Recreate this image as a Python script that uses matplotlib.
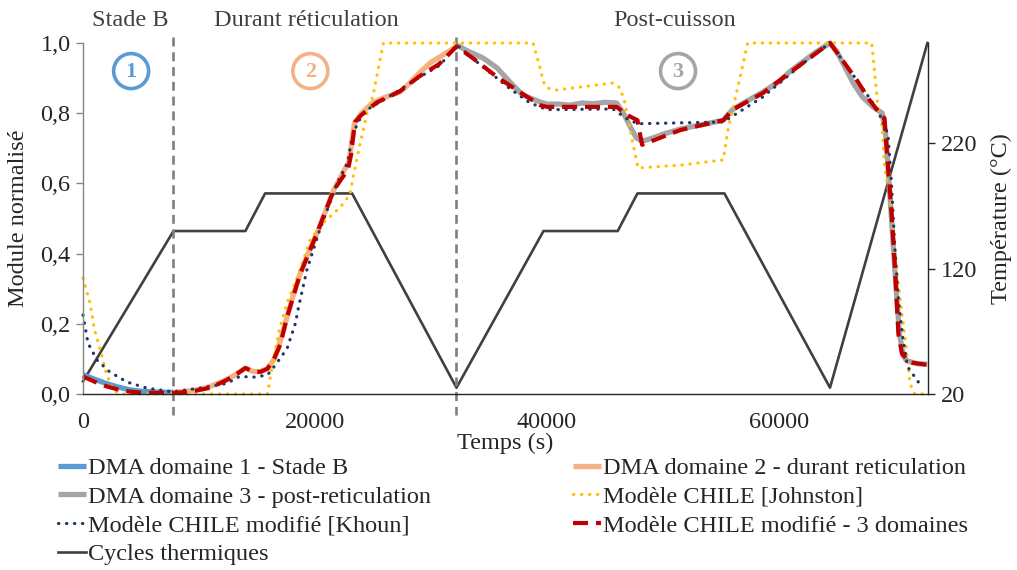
import matplotlib
matplotlib.use("Agg")
import matplotlib.pyplot as plt
from matplotlib.patches import Ellipse
from matplotlib.ticker import FuncFormatter

plt.rcParams['font.family'] = ['Liberation Serif', 'DejaVu Serif']

# ---------------- data ----------------
# thermal cycle (right axis, °C)
temp_t = [0, 7800, 14000, 15700, 23200, 32200, 39700, 46100, 47800, 55300, 64400, 72800]
temp_v = [30, 150, 150, 180, 180, 25, 150, 150, 180, 180, 25, 300]

# DMA domain 1 - B stage
dma1_t = [0, 1000, 2000, 3000, 4000, 5000, 6000, 7000, 7800]
dma1_v = [0.055, 0.042, 0.030, 0.020, 0.012, 0.008, 0.006, 0.005, 0.005]

# DMA domain 2 - during crosslinking
dma2_t = [7800, 9000, 10000, 11000, 12000, 13000, 14000, 14600, 15200, 15900, 16500, 17000,
          17600, 18200, 18700, 19400, 20200, 20900, 21600, 22400, 22900, 23100, 23400, 24000,
          25000, 26000, 27300, 28000, 29000, 30000, 31000, 32200]
dma2_v = [0.005, 0.008, 0.013, 0.022, 0.035, 0.052, 0.074, 0.065, 0.063, 0.072, 0.10, 0.15,
          0.22, 0.29, 0.34, 0.40, 0.46, 0.52, 0.58, 0.63, 0.66, 0.70, 0.77, 0.80,
          0.83, 0.845, 0.86, 0.88, 0.915, 0.945, 0.965, 0.99]

# DMA domain 3 - post-crosslinking
dma3_t = [32200, 33000, 34500, 35700, 36800, 37900, 39400, 40000, 41000, 42000, 43000, 44000,
          45000, 46000, 46600, 47200, 47700, 48200, 49000, 50000, 51500, 53000, 55200, 55600,
          56000, 57000, 58600, 60000, 61000, 62000, 63000, 64400, 65000, 66400, 67200, 68100,
          68900, 69200, 69500, 69800, 70100, 70400, 70700, 71000, 71500, 72000, 72800]
dma3_v = [0.995, 0.98, 0.957, 0.929, 0.889, 0.852, 0.832, 0.826, 0.826, 0.823, 0.829, 0.827,
          0.831, 0.829, 0.80, 0.76, 0.73, 0.72, 0.728, 0.74, 0.755, 0.765, 0.78, 0.795,
          0.81, 0.83, 0.86, 0.89, 0.92, 0.945, 0.97, 1.0, 0.975, 0.886, 0.846, 0.818,
          0.80, 0.74, 0.60, 0.45, 0.30, 0.17, 0.11, 0.095, 0.09, 0.086, 0.085]

# CHILE model [Johnston]
john_t = [0, 600, 1000, 1500, 2000, 2600, 3300, 15900, 16300, 16900, 17600, 18200, 18700,
          19600, 20700, 22200, 23000, 23300, 23900, 24500, 25000, 25400, 25900, 38800, 39100,
          39400, 39700, 40000, 40800, 45700, 46300, 46700, 47400, 47850, 51500, 55200, 55600,
          56600, 57300, 68000, 68500, 68900, 69100, 69600, 70000, 70250, 70600, 71000, 71300,
          71700, 72400]
john_v = [0.33, 0.26, 0.182, 0.125, 0.06, 0.01, 0.0, 0.0, 0.077, 0.18, 0.26, 0.31, 0.353,
          0.44, 0.487, 0.533, 0.567, 0.62, 0.715, 0.80, 0.85, 0.917, 1.0, 1.0, 0.966,
          0.929, 0.889, 0.872, 0.866, 0.886, 0.872, 0.832, 0.715, 0.644, 0.652, 0.667, 0.752,
          0.895, 1.0, 1.0, 0.83, 0.76, 0.647, 0.553, 0.41, 0.325, 0.23, 0.125, 0.03,
          0.0, 0.0]

# modified CHILE model [Khoun]
khoun_t = [0, 430, 1200, 2300, 3800, 5500, 7700, 10100, 12400, 13500, 14700, 15900, 16600,
           17600, 18300, 18600, 19300, 20400, 21900, 22800, 23200, 23700, 24500, 25900, 27300,
           29000, 30800, 32200, 34000, 36800, 38500, 40000, 45700, 46800, 47800, 55200, 58600,
           62000, 64400, 66700, 68500, 69400, 69700, 70000, 70300, 70700, 71100, 71900, 72300]
khoun_v = [0.225, 0.145, 0.097, 0.063, 0.034, 0.017, 0.006, 0.017, 0.03, 0.05, 0.048, 0.054,
           0.083, 0.13, 0.20, 0.25, 0.353, 0.467, 0.60, 0.658, 0.73, 0.775, 0.81, 0.838, 0.866,
           0.903, 0.937, 0.995, 0.945, 0.87, 0.83, 0.81, 0.812, 0.786, 0.77, 0.775, 0.846,
           0.94, 1.0, 0.895, 0.81, 0.74, 0.60, 0.41, 0.268, 0.154, 0.077, 0.04, 0.02]

# modified CHILE model - 3 domains
dom3_t = [0, 1000, 2000, 3000, 4000, 5000, 6500, 8000, 9500, 11000, 12400, 13300, 14000,
          14600, 15300, 15900, 16400, 17000, 17600, 18700, 20200, 21600, 22850, 23100, 23450,
          24000, 25300, 27300, 29000, 30700, 32200, 33600, 35700, 37400, 39400, 40000, 46000,
          46900, 47800, 48200, 51500, 55200, 56000, 58600, 61000, 64400, 66700, 67800, 68900,
          69100, 69400, 69700, 70000, 70300, 70600, 71300, 72800]
dom3_v = [0.05, 0.035, 0.022, 0.013, 0.007, 0.004, 0.003, 0.003, 0.008, 0.018, 0.04, 0.058,
          0.074, 0.065, 0.063, 0.072, 0.095, 0.14, 0.22, 0.34, 0.46, 0.58, 0.64, 0.68, 0.775,
          0.795, 0.83, 0.862, 0.905, 0.94, 0.99, 0.957, 0.903, 0.866, 0.823, 0.818, 0.818,
          0.795, 0.78, 0.71, 0.752, 0.78, 0.81, 0.857, 0.917, 1.0, 0.895, 0.838, 0.79,
          0.786, 0.647, 0.52, 0.36, 0.17, 0.115, 0.09, 0.083]

phase_bounds = [7800, 32200]
phase_labels = ["Stade B", "Durant réticulation", "Post-cuisson"]
phase_label_x = [4100, 19300, 51000]
circle_labels = ["1", "2", "3"]
circle_x = [4150, 19600, 51300]

x_ticks = [0, 20000, 40000, 60000]
y_ticks = [0.0, 0.2, 0.4, 0.6, 0.8, 1.0]
t_ticks = [20, 120, 220]

labels = ["DMA domaine 1 - Stade B", "DMA domaine 2 - durant reticulation",
          "DMA domaine 3 - post-reticulation", "Modèle CHILE [Johnston]",
          "Modèle CHILE modifié [Khoun]", "Modèle CHILE modifié - 3 domaines",
          "Cycles thermiques"]

# ---------------- styles ----------------
C_BLUE = '#5B9BD5'
C_SALMON = '#F4B183'
C_GREY = '#A5A5A5'
C_YEL = '#FFC000'
C_NAVY = '#1F3864'
C_RED = '#C00000'
C_BLACK = '#404040'
FS = 17.5

fig = plt.figure(figsize=(10.17, 5.70), dpi=100)
ax = fig.add_axes([83/1017, 1-394/570, 845/1017, 351/570])
ax2 = ax.twinx()
ax.set_zorder(ax2.get_zorder() + 1)
ax.patch.set_visible(False)

# thermal cycle
l_temp, = ax2.plot(temp_t, temp_v, color=C_BLACK, lw=1.9, clip_on=False)
ax2.set_ylim(20, 300)
ax2.set_yticks(t_ticks)
ax2.set_ylabel("Température (°C)", fontsize=FS, color='#262626', labelpad=10)

lw_dma = 3.8
l1, = ax.plot(dma1_t, dma1_v, color=C_BLUE, lw=lw_dma, solid_capstyle='butt', clip_on=False)
l2, = ax.plot(dma2_t, dma2_v, color=C_SALMON, lw=lw_dma, solid_capstyle='butt', clip_on=False)
l3, = ax.plot(dma3_t, dma3_v, color=C_GREY, lw=lw_dma, solid_capstyle='butt', clip_on=False)
l4, = ax.plot(john_t, john_v, color=C_YEL, lw=2.3, linestyle=(0, (0.1, 2.4)),
              dash_capstyle='round', clip_on=False)
l5, = ax.plot(khoun_t, khoun_v, color=C_NAVY, lw=2.3, linestyle=(0, (0.1, 2.4)),
              dash_capstyle='round', clip_on=False)
l6, = ax.plot(dom3_t, dom3_v, color=C_RED, lw=3.0, linestyle=(0, (3.6, 1.9)),
              clip_on=False)

# phase separators
for xb in phase_bounds:
    ax.plot([xb, xb], [1.017, -0.06], color='#7F7F7F', lw=1.9,
            linestyle=(0, (3.4, 2.2)), clip_on=False, zorder=1)

ax.set_xlim(0, 72850)
ax.set_ylim(0, 1.0)
ax.set_xticks(x_ticks)
ax.set_yticks(y_ticks)
ax.yaxis.set_major_formatter(FuncFormatter(lambda v, p: f"{v:.1f}".replace('.', ',')))
ax.xaxis.set_major_formatter(FuncFormatter(lambda v, p: f"{int(v)}"))
ax.set_xlabel("Temps (s)", fontsize=FS, color='#262626', labelpad=0)
ax.set_ylabel("Module normalisé", fontsize=FS, color='#262626', labelpad=8)

for a in (ax, ax2):
    for s in a.spines.values():
        s.set_visible(False)
ax.spines['left'].set_visible(True)
ax.spines['left'].set_color('#868686')
ax.spines['left'].set_linewidth(1.0)
ax.spines['bottom'].set_visible(True)
ax.spines['bottom'].set_color('#262626')
ax.spines['bottom'].set_linewidth(1.0)
ax2.spines['right'].set_visible(True)
ax2.spines['right'].set_color('#262626')
ax2.spines['right'].set_linewidth(1.0)

ax.tick_params(axis='y', labelsize=FS, colors='#262626', length=5, width=1.0,
               direction='out', pad=4)
ax.tick_params(axis='y', color='#868686')
ax.tick_params(axis='x', labelsize=FS, colors='#262626', length=0, pad=13)
ax2.tick_params(axis='y', labelsize=FS, colors='#262626', length=5, width=1.0,
                direction='out', pad=4)

# phase labels above plot
for lx, txt in zip(phase_label_x, phase_labels):
    ax.text(lx, 1.0 + 22/351, txt, ha='center', va='center', fontsize=FS,
            color='#404040', clip_on=False)

# circled numbers
circle_cols = [C_BLUE, C_SALMON, C_GREY]
for cx, lab, col in zip(circle_x, circle_labels, circle_cols):
    xa = cx / 72850
    ya = 0.92
    e = Ellipse((xa, ya), width=35/845, height=35/351, transform=ax.transAxes,
                facecolor='white', edgecolor=col, lw=2.6, zorder=5, clip_on=False)
    ax.add_patch(e)
    ax.text(xa, ya - 0.004, lab, transform=ax.transAxes, ha='center', va='center',
            fontsize=16, fontweight='bold', color=col, zorder=6)

# legend (two columns, row-wise order as in reference)
col1 = [(l1, labels[0]), (l3, labels[2]), (l5, labels[4]), (l_temp, labels[6])]
col2 = [(l2, labels[1]), (l4, labels[3]), (l6, labels[5])]
common = dict(frameon=False, fontsize=FS, handlelength=1.15, handletextpad=0.1,
              labelspacing=0.28, borderpad=0, borderaxespad=0, loc='upper left')
leg1 = fig.legend([h for h, _ in col1], [t for _, t in col1],
                  bbox_to_anchor=(58/1017, 1-457/570), **common)
leg2 = fig.legend([h for h, _ in col2], [t for _, t in col2],
                  bbox_to_anchor=(573/1017, 1-457/570), **common)
for lg in (leg1, leg2):
    for t in lg.get_texts():
        t.set_color('#262626')

fig.savefig("out.png", dpi=100)
